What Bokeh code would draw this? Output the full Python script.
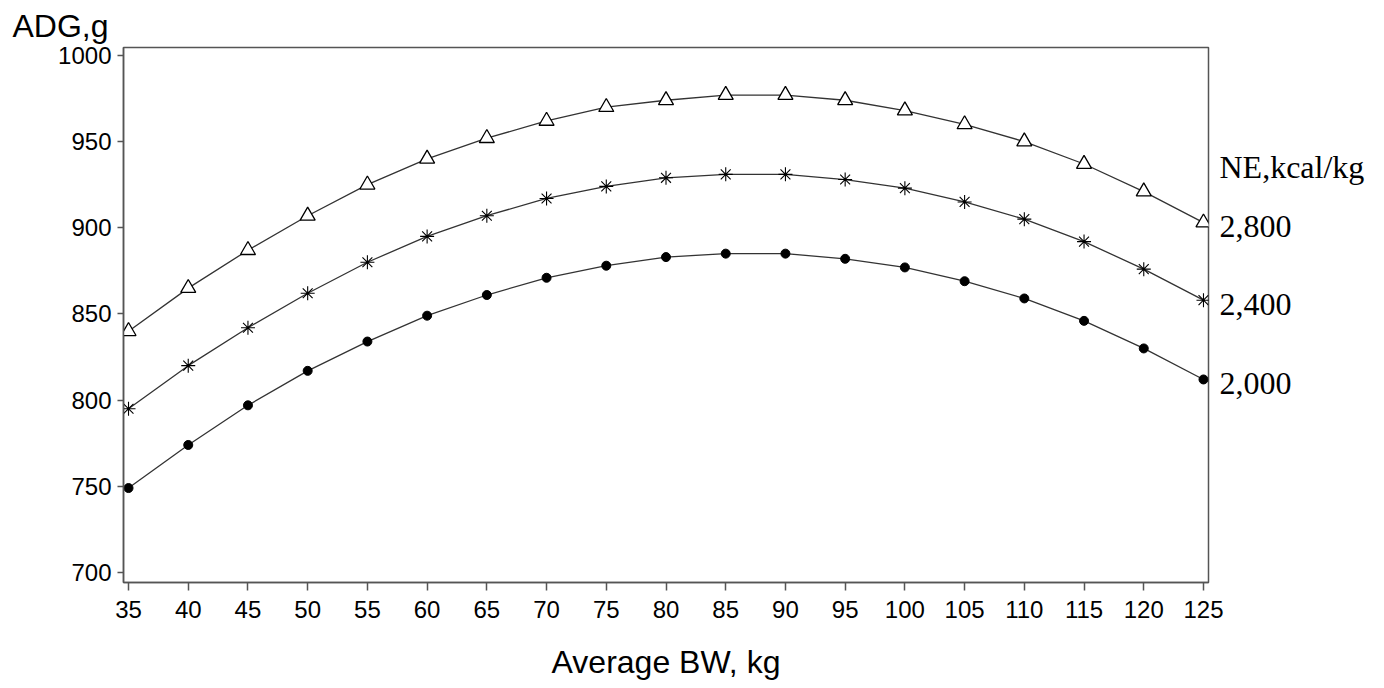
from bokeh.plotting import figure
from bokeh.models import Range1d, FixedTicker, LinearAxis, Title
from bokeh.embed import file_html
from bokeh.resources import INLINE

bw = [35, 40, 45, 50, 55, 60, 65, 70, 75, 80, 85, 90, 95, 100, 105, 110, 115, 120, 125]
adg_2800 = [840, 865, 887, 907, 925, 940, 952, 962, 970, 974, 977, 977, 974, 968, 960, 950, 937, 921, 903]
adg_2400 = [795, 820, 842, 862, 880, 895, 907, 917, 924, 929, 931, 931, 928, 923, 915, 905, 892, 876, 858]
adg_2000 = [749, 774, 797, 817, 834, 849, 861, 871, 878, 883, 885, 885, 882, 877, 869, 859, 846, 830, 812]
series_labels = ["2,800", "2,400", "2,000"]
legend_title = "NE,kcal/kg"
x_ticks = list(range(35, 130, 5))
y_ticks = [700, 750, 800, 850, 900, 950, 1000]

p = figure(width=1384, height=688, output_backend="svg", toolbar_location=None,
           x_range=Range1d(34.58, 125.42), y_range=Range1d(694.2, 1004.6),
           min_border_left=123, min_border_right=176, min_border_top=47, min_border_bottom=106)
p.xgrid.visible = False
p.ygrid.visible = False
p.outline_line_color = "#555555"
p.outline_line_width = 1.5
p.background_fill_color = "white"
p.border_fill_color = "white"

line_col = "#333333"
p.line(bw, adg_2800, line_color=line_col, line_width=1.3)
p.line(bw, adg_2400, line_color=line_col, line_width=1.3)
p.line(bw, adg_2000, line_color=line_col, line_width=1.3)
p.scatter(bw, adg_2800, marker="triangle", size=15, fill_color="white", line_color="black", line_width=1.3)
p.scatter(bw, adg_2400, marker="asterisk", size=14, line_color="black", line_width=1.1)
p.scatter(bw, adg_2000, marker="circle", size=9, fill_color="black", line_color="black")

for ax in (p.xaxis[0], p.yaxis[0]):
    ax.axis_line_color = "#555555"
    ax.axis_line_width = 1.5
    ax.major_tick_line_color = "#555555"
    ax.major_tick_line_width = 1.5
    ax.minor_tick_line_color = None
    ax.major_tick_in = 0
    ax.major_label_text_font = "Liberation Sans"
    ax.major_label_text_font_size = "24px"
    ax.major_label_text_color = "black"

p.xaxis[0].ticker = FixedTicker(ticks=x_ticks)
p.xaxis[0].major_tick_out = 8
p.xaxis[0].major_label_standoff = 10
p.xaxis[0].axis_label = "Average BW, kg"
p.xaxis[0].axis_label_text_font = "Liberation Sans"
p.xaxis[0].axis_label_text_font_size = "32px"
p.xaxis[0].axis_label_text_font_style = "normal"
p.xaxis[0].axis_label_text_color = "black"
p.xaxis[0].axis_label_standoff = 23

p.yaxis[0].ticker = FixedTicker(ticks=y_ticks)
p.yaxis[0].major_tick_out = 6
p.yaxis[0].major_label_standoff = 6

# right-side series labels, drawn as an axis with text only
label_pos = [935.0] + [v - 2.0 for v in (adg_2800[-1], adg_2400[-1], adg_2000[-1])]
label_txt = [legend_title] + series_labels
rax = LinearAxis(ticker=FixedTicker(ticks=label_pos),
                 major_label_overrides={pos: txt for pos, txt in zip(label_pos, label_txt)})
rax.axis_line_color = None
rax.major_tick_line_color = None
rax.minor_tick_line_color = None
rax.major_tick_in = 0
rax.major_tick_out = 0
rax.major_label_standoff = 11
rax.major_label_text_font = "Liberation Serif"
rax.major_label_text_font_size = "32px"
rax.major_label_text_color = "black"
p.add_layout(rax, "right")

t = Title(text="ADG,g", align="left", offset=-111, text_font="Liberation Sans",
          text_font_size="32px", text_font_style="normal", text_color="black", standoff=8)
p.add_layout(t, "above")

open("out.html", "w").write(file_html(p, INLINE))
